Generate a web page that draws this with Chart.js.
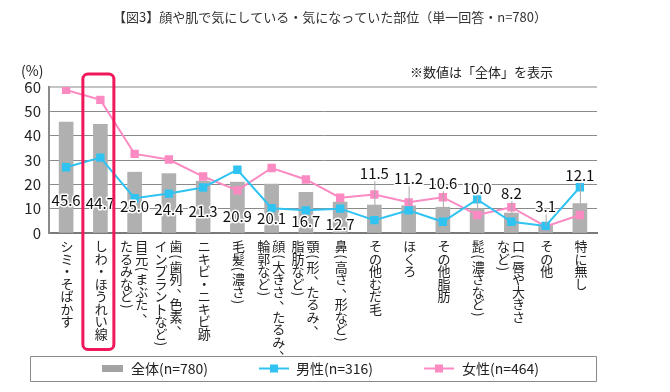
<!DOCTYPE html>
<html>
<head>
<meta charset="utf-8">
<script src="https://cdn.jsdelivr.net/npm/chart.js@4"></script>
<style>html,body{margin:0;padding:0;background:#fff}</style>
</head>
<body>
<canvas id="Chart" width="670" height="392"></canvas>
<script>
const categories = [
  ['シミ・そばかす'],
  ['しわ・ほうれい線'],
  ['目元(まぶた、', 'たるみなど)'],
  ['歯(歯列、色素、', 'インプラントなど)'],
  ['ニキビ・ニキビ跡'],
  ['毛髪(濃さ)'],
  ['顔(大きさ、たるみ、', '輪郭など)'],
  ['顎(形、たるみ、', '脂肪など)'],
  ['鼻(高さ、形など)'],
  ['その他むだ毛'],
  ['ほくろ'],
  ['その他脂肪'],
  ['髭(濃さなど)'],
  ['口(唇や大きさ', 'など)'],
  ['その他'],
  ['特に無し']
];
const overall = [45.6, 44.7, 25.0, 24.4, 21.3, 20.9, 20.1, 16.7, 12.7, 11.5, 11.2, 10.6, 10.0, 8.2, 3.1, 12.1];
const male    = [27.0, 31.0, 14.3, 16.2, 18.7, 26.0, 10.2, 9.3, 10.0, 5.3, 9.3, 4.6, 13.8, 4.6, 2.9, 18.8];
const female  = [58.8, 54.7, 32.5, 30.2, 23.2, 17.5, 26.7, 22.0, 14.5, 15.8, 12.6, 14.7, 7.4, 10.6, 2.7, 7.4];
const yTicks  = [0, 10, 20, 30, 40, 50, 60];

const FONT = "'Noto Sans CJK JP', 'Noto Sans', sans-serif";
const BLUE = '#30c3f2';
const PINK = '#fb8ac3';
const GRAY = '#b0b0b0';

// vertical (tategaki) text, one char at a time
function drawVertical(ctx, text, x, y) {
  for (const ch of text) {
    if (ch === '(' || ch === ')') {
      ctx.save();
      ctx.translate(x, y + 4);
      ctx.rotate(Math.PI / 2);
      ctx.fillText(ch, 0, 0);
      ctx.restore();
      y += 8;
    } else if (ch === '、') {
      ctx.fillText(ch, x + 7, y + 6.25 - 6);
      y += 12.5;
    } else {
      ctx.fillText(ch, x, y + 6.25);
      y += 12.5;
    }
  }
}

const decor = {
  id: 'decor',
  afterDraw(chart, args, opts) {
    const { ctx, scales: { x, y } } = chart;
    ctx.save();

    // title + notes
    ctx.fillStyle = '#333';
    ctx.textBaseline = 'middle';
    ctx.textAlign = 'left';
    ctx.font = `13px ${FONT}`;
    ctx.fillText('【図3】顔や肌で気にしている・気になっていた部位（単一回答・n=780）', 113, 17);
    ctx.fillStyle = '#222';
    ctx.font = `14px ${FONT}`;
    ctx.fillText('(%)', 21, 71);
    ctx.font = `13px ${FONT}`;
    ctx.fillText('※数値は「全体」を表示', 410, 72);

    // value labels for 全体
    ctx.font = `15px ${FONT}`;
    ctx.textAlign = 'center';
    overall.forEach((v, i) => {
      const cx = x.getPixelForValue(i);
      const ly = y.getPixelForValue(opts.labelAt[i]);
      if (opts.labelAt[i] > v) {
        ctx.strokeStyle = '#a8a8a8';
        ctx.lineWidth = 1;
        ctx.beginPath();
        ctx.moveTo(cx + 0.5, y.getPixelForValue(v));
        ctx.lineTo(cx + 0.5, ly + 8);
        ctx.stroke();
      }
      const txt = v.toFixed(1);
      ctx.strokeStyle = '#fff';
      ctx.lineWidth = 3;
      ctx.lineJoin = 'round';
      ctx.strokeText(txt, cx, ly);
      ctx.fillStyle = '#111';
      ctx.fillText(txt, cx, ly);
    });

    // category labels
    ctx.font = `13px ${FONT}`;
    ctx.fillStyle = '#222';
    categories.forEach((cols, i) => {
      const cx = x.getPixelForValue(i);
      if (cols.length === 1) {
        drawVertical(ctx, cols[0], cx + 1, 240);
      } else {
        drawVertical(ctx, cols[0], cx + 7, 240);
        drawVertical(ctx, cols[1], cx - 8, 240);
      }
    });

    // highlight box
    const hx = x.getPixelForValue(1) - 2;
    ctx.strokeStyle = '#f0185a';
    ctx.lineWidth = 3;
    ctx.beginPath();
    ctx.roundRect(hx - 15.5, 74, 31, 275.5, 5);
    ctx.stroke();

    // legend
    ctx.strokeStyle = '#8a8a8a';
    ctx.lineWidth = 1;
    ctx.strokeRect(30.5, 356.5, 566, 25);
    const ly = 368.5;
    ctx.fillStyle = '#a3a3a3';
    ctx.fillRect(102, 365, 21, 7);
    [[BLUE, 259, 'male'], [PINK, 424, 'female']].forEach(([c, lx]) => {
      ctx.strokeStyle = c;
      ctx.lineWidth = 2;
      ctx.beginPath();
      ctx.moveTo(lx, ly);
      ctx.lineTo(lx + 30, ly);
      ctx.stroke();
      ctx.fillStyle = c;
      ctx.fillRect(lx + 11, ly - 4, 8, 8);
    });
    ctx.fillStyle = '#222';
    ctx.textAlign = 'left';
    ctx.font = `14px ${FONT}`;
    ctx.fillText('全体(n=780)', 131, ly);
    ctx.fillText('男性(n=316)', 296, ly);
    ctx.fillText('女性(n=464)', 462, ly);

    ctx.restore();
  }
};

new Chart(document.getElementById('Chart'), {
  data: {
    labels: categories,
    datasets: [
      {
        type: 'line',
        label: '男性(n=316)',
        data: male,
        borderColor: BLUE,
        backgroundColor: BLUE,
        borderWidth: 2,
        pointStyle: 'rect',
        pointRadius: 4.5,
        tension: 0,
        order: 1
      },
      {
        type: 'line',
        label: '女性(n=464)',
        data: female,
        borderColor: PINK,
        backgroundColor: PINK,
        borderWidth: 2,
        pointStyle: 'rect',
        pointRadius: 4.5,
        tension: 0,
        order: 2
      },
      {
        type: 'bar',
        label: '全体(n=780)',
        data: overall,
        backgroundColor: GRAY,
        barThickness: 14,
        order: 3
      }
    ]
  },
  options: {
    responsive: false,
    animation: false,
    layout: { padding: { left: 0, top: 87, right: 73, bottom: 159 } },
    plugins: {
      legend: { display: false },
      tooltip: { enabled: false },
      decor: {
        labelAt: [13.6, 12.3, 11.0, 9.9, 8.8, 7.0, 6.1, 4.8, 3.5, 24.6, 22.5, 20.5, 18.4, 16.4, 10.9, 23.9]
      }
    },
    scales: {
      x: {
        grid: { display: false },
        border: { color: '#7a7a7a', width: 2 },
        ticks: { display: false },
        afterFit: s => { s.height = 0; }
      },
      y: {
        min: 0,
        max: 60,
        afterBuildTicks: s => { s.ticks = yTicks.map(v => ({ value: v })); },
        grid: {
          color: c => c.tick.value === 60 ? '#c4c4c4' : '#8a8a8a',
          lineWidth: c => c.tick.value === 60 ? 2 : 1,
          drawTicks: false
        },
        border: { color: '#8a8a8a', width: 2 },
        ticks: {
          color: '#222',
          padding: 8,
          font: { family: FONT, size: 15 }
        },
        afterFit: s => { s.width = 49; }
      }
    }
  },
  plugins: [decor]
});
</script>
</body>
</html>
